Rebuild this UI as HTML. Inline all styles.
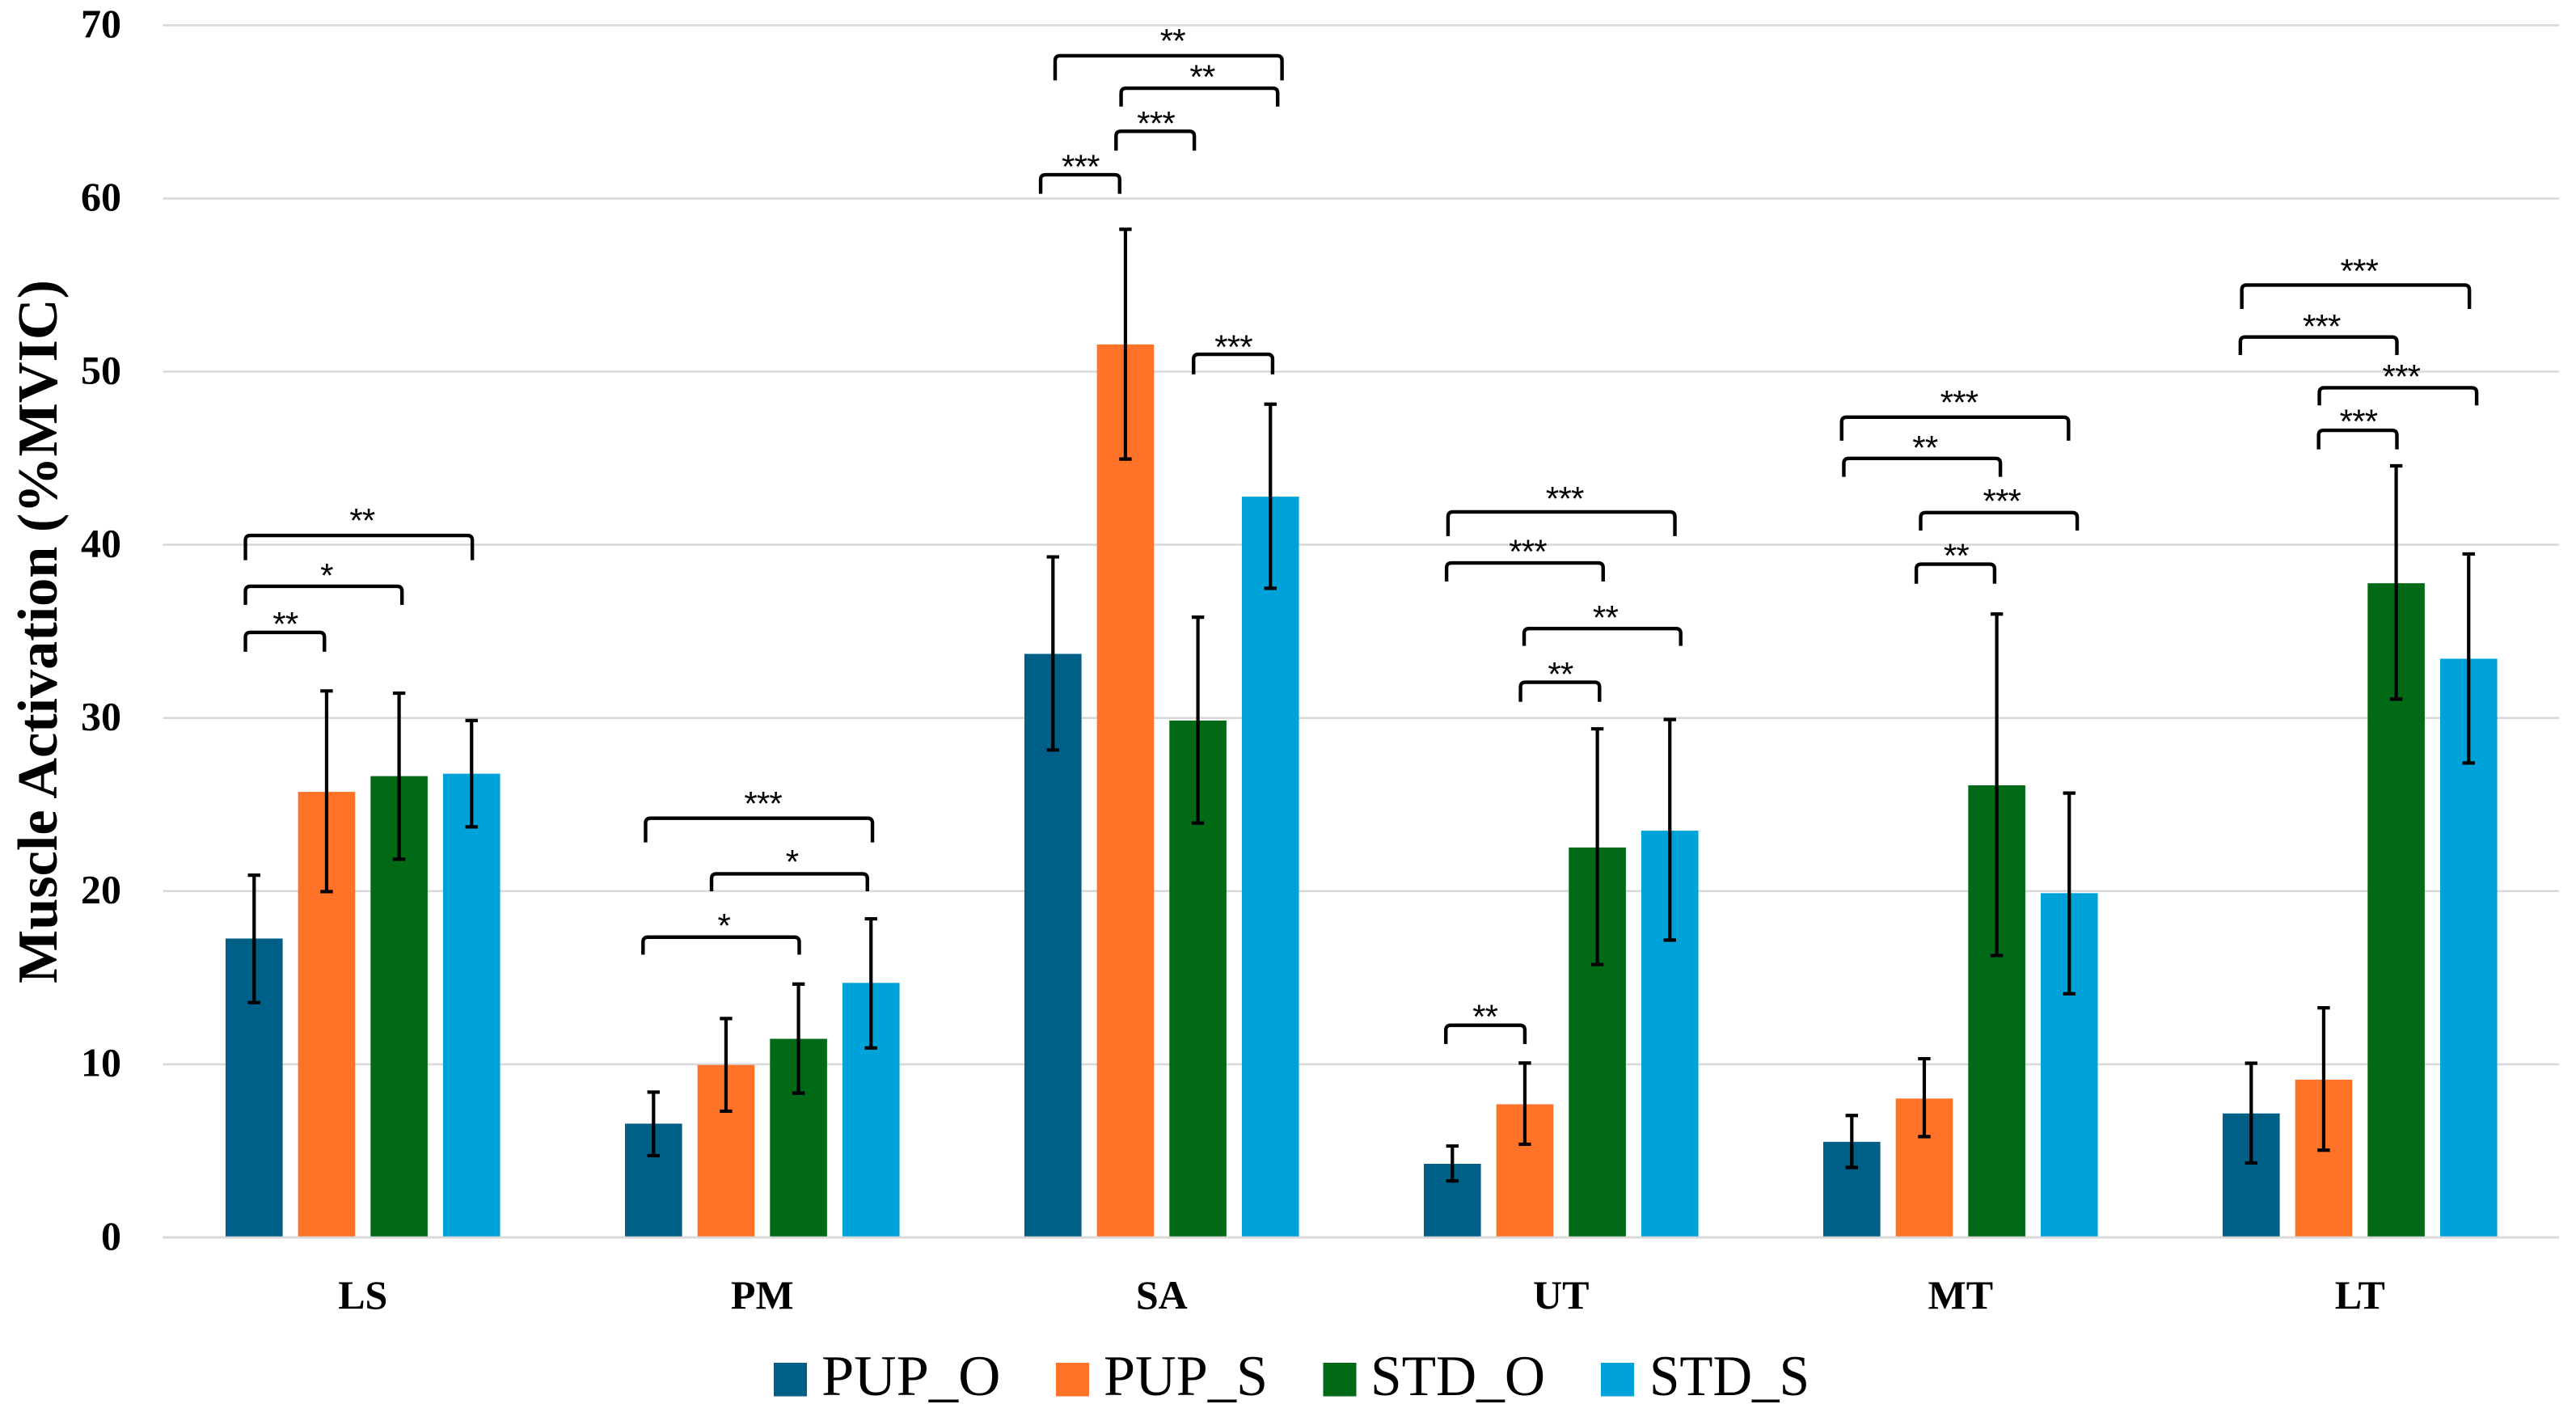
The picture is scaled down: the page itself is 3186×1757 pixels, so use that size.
<!DOCTYPE html>
<html lang="en">
<head>
<meta charset="utf-8">
<title>Muscle Activation (%MVIC)</title>
<style>
  html, body { margin: 0; padding: 0; background: #ffffff; }
  svg { display: block; }
  text { fill: #000000; }
  .tick { font: bold 50px "Liberation Serif", serif; }
  .title { font: bold 70px "Liberation Serif", serif; }
  .legend { font: 71px "Liberation Serif", serif; }
  .stars { font: 42px "Liberation Sans", sans-serif; letter-spacing: -0.8px; }
</style>
</head>
<body>
<svg id="chart" xmlns="http://www.w3.org/2000/svg" width="3186" height="1757" viewBox="0 0 3186 1757">
  <rect x="0" y="0" width="3186" height="1757" fill="#ffffff"/>
  <g id="grid"></g>
  <g id="yticks"></g>
  <g id="bars"></g>
  <g id="errors"></g>
  <g id="brackets"></g>
  <g id="xticks"></g>
  <text class="title" transform="translate(70 1216) rotate(-90)" textLength="870" lengthAdjust="spacingAndGlyphs">Muscle Activation (%MVIC)</text>
  <g>
    <g>
      <rect x="957" y="1685" width="41" height="41.5" fill="#005f87"/>
      <text class="legend" x="1016" y="1725" textLength="221.5" lengthAdjust="spacingAndGlyphs">PUP_O</text>
    </g>
    <g>
      <rect x="1306" y="1685" width="41" height="41.5" fill="#ff7329"/>
      <text class="legend" x="1365" y="1725" textLength="203" lengthAdjust="spacingAndGlyphs">PUP_S</text>
    </g>
    <g>
      <rect x="1636.5" y="1685" width="41" height="41.5" fill="#026a16"/>
      <text class="legend" x="1695" y="1725" textLength="216" lengthAdjust="spacingAndGlyphs">STD_O</text>
    </g>
    <g>
      <rect x="1980" y="1685" width="41" height="41.5" fill="#00a2da"/>
      <text class="legend" x="2040" y="1725" textLength="198" lengthAdjust="spacingAndGlyphs">STD_S</text>
    </g>
  </g>
</svg>
<script>
// ---- chart data ----
const categories = ['LS', 'PM', 'SA', 'UT', 'MT', 'LT'];
const seriesNames = ['PUP_O', 'PUP_S', 'STD_O', 'STD_S'];
const yTicks = [0, 10, 20, 30, 40, 50, 60, 70];

const pupO = [17.26, 6.57, 33.70, 4.25, 5.52, 7.16];
const pupS = [25.73, 9.96, 51.57, 7.69, 8.02, 9.11];
const stdO = [26.64, 11.47, 29.85, 22.52, 26.11, 37.78];
const stdS = [26.78, 14.70, 42.78, 23.49, 19.88, 33.42];

const pupOHigh = [20.92, 8.39, 39.30, 5.28, 7.04, 10.06];
const pupSHigh = [31.56, 12.64, 58.22, 10.07, 10.32, 13.26];
const stdOHigh = [31.43, 14.63, 35.82, 29.37, 36.00, 44.56];
const stdSHigh = [29.85, 18.40, 48.12, 29.91, 25.66, 39.47];

const pupOLow = [13.56, 4.72, 28.15, 3.26, 4.04, 4.30];
const pupSLow = [19.97, 7.29, 44.95, 5.38, 5.82, 5.04];
const stdOLow = [21.84, 8.33, 23.93, 15.76, 16.28, 31.09];
const stdSLow = [23.71, 10.94, 37.49, 17.17, 14.07, 27.40];

// Significance brackets: group, span in bar slots, bracket top / foot on the value axis,
// star marker text and its centre (bar slot, value).
const bracketGroups = [0, 0, 0, 1, 1, 1, 2, 2, 2, 2, 2, 3, 3, 3, 3, 3, 4, 4, 4, 4, 5, 5, 5, 5];
const bracketFrom = [-0.12, -0.12, -0.12, -0.11, 0.80, -0.145, 0.03, 0.94, 0.87, -0.17, 1.94, -0.06, -0.08, 0.99, 0.94, -0.09, -0.14, -0.11, 0.95, 0.89, -0.13, -0.15, 0.94, 0.93];
const bracketTo = [3.01, 2.04, 0.97, 3.02, 2.95, 2.01, 3.16, 3.10, 1.95, 0.92, 3.03, 3.07, 2.08, 3.15, 2.03, 1.00, 2.99, 2.05, 3.11, 1.97, 3.01, 2.01, 3.11, 2.01];
const bracketTop = [40.54, 37.60, 34.94, 24.21, 21.00, 17.34, 68.24, 66.37, 63.88, 61.37, 51.00, 41.90, 38.95, 35.16, 32.06, 12.25, 47.37, 44.99, 41.86, 38.88, 55.00, 52.00, 49.07, 46.61];
const bracketFoot = [39.11, 36.53, 33.82, 22.81, 19.99, 16.33, 66.82, 65.31, 62.76, 60.27, 49.84, 40.50, 37.88, 34.16, 30.93, 11.17, 46.01, 43.92, 40.82, 37.75, 53.62, 50.96, 48.05, 45.51];
const bracketStars = ['**', '*', '**', '***', '*', '*', '**', '**', '***', '***', '***', '***', '***', '**', '**', '**', '***', '**', '***', '**', '***', '***', '***', '***'];
const starSlot = [1.49, 1.00, 0.43, 1.51, 1.91, 0.97, 1.65, 2.06, 1.42, 0.38, 2.49, 1.55, 1.04, 2.11, 1.49, 0.45, 1.48, 1.01, 2.07, 1.44, 1.49, 0.97, 2.07, 1.48];
const starValue = [41.76, 38.59, 35.78, 25.41, 22.05, 18.36, 69.45, 67.38, 64.69, 62.18, 51.77, 43.02, 39.95, 36.15, 32.88, 13.09, 48.58, 45.95, 42.88, 39.72, 56.17, 52.97, 50.06, 47.47];

// ---- styling / layout ----
const seriesValues = [pupO, pupS, stdO, stdS];
const seriesHigh = [pupOHigh, pupSHigh, stdOHigh, stdSHigh];
const seriesLow = [pupOLow, pupSLow, stdOLow, stdSLow];
const seriesColors = ['#005f87', '#ff7329', '#026a16', '#00a2da'];

const plotLeft = 201.5, plotRight = 3165;
const baselineY = 1530, unitPx = 21.41;
const firstBarCentre = 314.3, groupPitch = 494, barPitch = 89.65, barWidth = 70.6;
const capHalf = 7.7;
const NS = 'http://www.w3.org/2000/svg';

function yScale(v) { return baselineY - v * unitPx; }
function xScale(g, slot) { return firstBarCentre + g * groupPitch + slot * barPitch; }
function make(tag, parentId) {
  const el = document.createElementNS(NS, tag);
  document.getElementById(parentId).appendChild(el);
  return el;
}
function slug(s) { return s.toLowerCase().replace(/_/g, '-'); }

yTicks.forEach(function (t) {
  const line = make('line', 'grid');
  
  
  line.setAttribute('x1', plotLeft);
  line.setAttribute('x2', plotRight);
  line.setAttribute('y1', yScale(t));
  line.setAttribute('y2', yScale(t));
  line.setAttribute('stroke', '#d9d9d9');
  line.setAttribute('stroke-width', t === 0 ? 3 : 2.6);

  const label = make('text', 'yticks');
  
  
  label.setAttribute('class', 'tick');
  label.setAttribute('x', 150);
  label.setAttribute('y', yScale(t) + 14.8);
  label.setAttribute('text-anchor', 'end');
  label.textContent = t;
});

categories.forEach(function (cat, g) {
  seriesNames.forEach(function (name, s) {
    const cx = xScale(g, s);
    const v = seriesValues[s][g];
    const rect = make('rect', 'bars');
    
    
    rect.setAttribute('x', cx - barWidth / 2);
    rect.setAttribute('y', yScale(v));
    rect.setAttribute('width', barWidth);
    rect.setAttribute('height', Math.max(0, yScale(0) - 1.3 - yScale(v)));
    rect.setAttribute('fill', seriesColors[s]);

    const hi = yScale(seriesHigh[s][g]);
    const lo = yScale(seriesLow[s][g]);
    const err = make('path', 'errors');
    
    
    err.setAttribute('d', 'M' + (cx - capHalf) + ' ' + hi + 'H' + (cx + capHalf) +
      'M' + cx + ' ' + hi + 'V' + lo +
      'M' + (cx - capHalf) + ' ' + lo + 'H' + (cx + capHalf));
    err.setAttribute('fill', 'none');
    err.setAttribute('stroke', '#000000');
    err.setAttribute('stroke-width', 4.2);
  });

  const cl = make('text', 'xticks');
  
  
  cl.setAttribute('class', 'tick');
  cl.setAttribute('x', xScale(g, 1.5));
  cl.setAttribute('y', 1618);
  cl.setAttribute('text-anchor', 'middle');
  cl.textContent = cat;
});

bracketGroups.forEach(function (g, i) {
  const x1 = xScale(g, bracketFrom[i]);
  const x2 = xScale(g, bracketTo[i]);
  const top = yScale(bracketTop[i]);
  const foot = yScale(bracketFoot[i]);
  const r = 6;
  const br = make('path', 'brackets');
  
  
  br.setAttribute('d', 'M' + x1 + ' ' + foot + 'L' + x1 + ' ' + (top + r) +
    'Q' + x1 + ' ' + top + ' ' + (x1 + r) + ' ' + top +
    'L' + (x2 - r) + ' ' + top +
    'Q' + x2 + ' ' + top + ' ' + x2 + ' ' + (top + r) +
    'L' + x2 + ' ' + foot);
  br.setAttribute('fill', 'none');
  br.setAttribute('stroke', '#000000');
  br.setAttribute('stroke-width', 4.4);

  const st = make('text', 'brackets');
  
  
  st.setAttribute('class', 'stars');
  st.setAttribute('x', xScale(g, starSlot[i]));
  st.setAttribute('y', yScale(starValue[i]) + 22);
  st.setAttribute('text-anchor', 'middle');
  st.textContent = bracketStars[i];
});
</script>
</body>
</html>
